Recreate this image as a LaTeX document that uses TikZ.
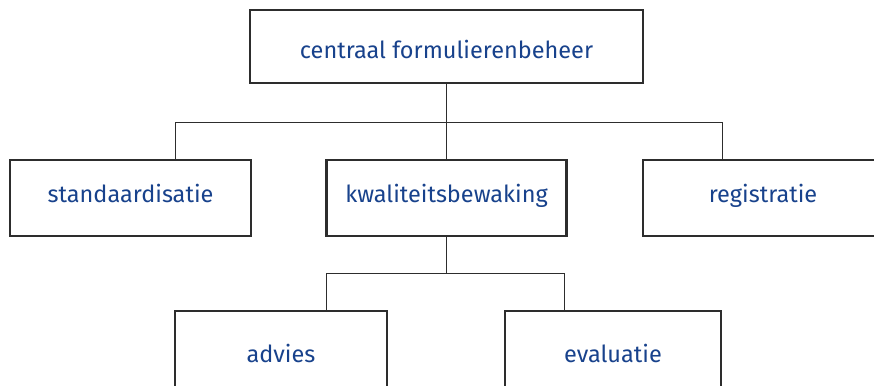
\documentclass[tikz,border=0pt]{standalone}
\usepackage{fontspec}
\setmainfont{Fira Sans}
\definecolor{txtblue}{RGB}{24,66,140}
\definecolor{boxline}{RGB}{45,45,45}
\begin{document}
\begin{tikzpicture}[x=1pt,y=-1pt,
  orgbox/.style={draw=boxline,line width=2.2pt,fill=white,inner sep=0pt,
    minimum height=76pt,text=txtblue,font=\fontsize{23.5}{26}\selectfont},
  lowtext/.style={text height=24pt,text depth=0pt},
  midtext/.style={text height=17pt,text depth=9pt},
  bottext/.style={text height=26pt,text depth=0pt},
  conn/.style={draw=boxline,line width=1pt}]
\useasboundingbox (0,0) rectangle (874,385);
\clip (0,0) rectangle (874,385);
\fill[white] (0,0) rectangle (874,385);
\coordinate (b1l) at (175,122);
\coordinate (b1r) at (722,122);
\coordinate (b2l) at (326,273);
\coordinate (b2r) at (564,273);
\node[orgbox,lowtext,minimum width=393pt,minimum height=73pt] (top) at (446.5,46.5) {centraal formulierenbeheer};
\node[orgbox,midtext,minimum width=241pt] (stand) at (130.5,198) {standaardisatie};
\node[orgbox,midtext,minimum width=240pt] (kwal) at (446.5,198) {kwaliteitsbewaking};
\node[orgbox,midtext,minimum width=240pt] (reg) at (763,198) {registratie};
\node[orgbox,bottext,minimum width=212pt] (adv) at (281,349) {advies};
\node[orgbox,bottext,minimum width=216pt] (eval) at (613,349) {evaluatie};
\draw[conn] (b1l) -- (b1r);
\draw[conn] (top.south) -- (top.south |- b1l);
\draw[conn] (b1l) -- (b1l |- stand.north);
\draw[conn] (kwal.north |- b1l) -- (kwal.north);
\draw[conn] (b1r) -- (b1r |- reg.north);
\draw[conn] (b2l) -- (b2r);
\draw[conn] (kwal.south) -- (kwal.south |- b2l);
\draw[conn] (b2l) -- (b2l |- adv.north);
\draw[conn] (b2r) -- (b2r |- eval.north);
\end{tikzpicture}
\end{document}
